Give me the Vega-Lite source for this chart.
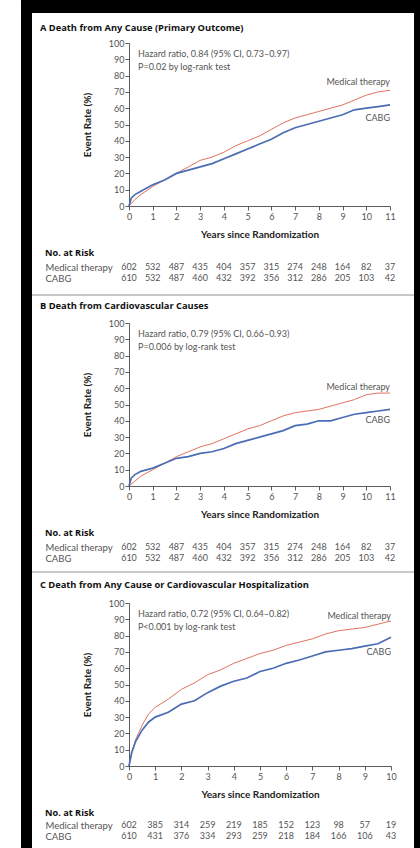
{
  "$schema": "https://vega.github.io/schema/vega-lite/v6.json",
  "background": "white",
  "padding": {"left": 20, "top": 0, "right": 0, "bottom": 0},
  "bounds": "flush",
  "spacing": 40,
  "config": {
    "font": "Lato",
    "view": {"stroke": null},
    "axis": {"domainColor": "#333", "tickColor": "#333", "labelColor": "#555", "labelFontSize": 9, "titleFontSize": 10, "titleFontWeight": "bold", "titleColor": "#222", "grid": false, "tickSize": 4, "labelPadding": 2, "domainWidth": 0.8, "tickWidth": 0.8, "labelFlush": false},
    "title": {"font": "Open Sans", "fontSize": 9.2, "fontWeight": "bold", "color": "#111", "anchor": "start", "frame": "group", "baseline": "middle"},
    "text": {"font": "Lato", "fontSize": 9, "color": "#555"}
  },
  "datasets": {
    "curves": [
      {"panel":"A","group":"Medical therapy","t":0,"rate":0},{"panel":"A","group":"Medical therapy","t":0.25,"rate":4},{"panel":"A","group":"Medical therapy","t":0.5,"rate":7},{"panel":"A","group":"Medical therapy","t":1,"rate":12},{"panel":"A","group":"Medical therapy","t":1.5,"rate":16},{"panel":"A","group":"Medical therapy","t":2,"rate":20},{"panel":"A","group":"Medical therapy","t":2.5,"rate":24},{"panel":"A","group":"Medical therapy","t":3,"rate":28},{"panel":"A","group":"Medical therapy","t":3.5,"rate":30},{"panel":"A","group":"Medical therapy","t":4,"rate":33},{"panel":"A","group":"Medical therapy","t":4.5,"rate":37},{"panel":"A","group":"Medical therapy","t":5,"rate":40},{"panel":"A","group":"Medical therapy","t":5.5,"rate":43},{"panel":"A","group":"Medical therapy","t":6,"rate":47},{"panel":"A","group":"Medical therapy","t":6.5,"rate":51},{"panel":"A","group":"Medical therapy","t":7,"rate":54},{"panel":"A","group":"Medical therapy","t":7.5,"rate":56},{"panel":"A","group":"Medical therapy","t":8,"rate":58},{"panel":"A","group":"Medical therapy","t":8.5,"rate":60},{"panel":"A","group":"Medical therapy","t":9,"rate":62},{"panel":"A","group":"Medical therapy","t":9.5,"rate":65},{"panel":"A","group":"Medical therapy","t":10,"rate":68},{"panel":"A","group":"Medical therapy","t":10.5,"rate":70},{"panel":"A","group":"Medical therapy","t":11,"rate":71},
      {"panel":"A","group":"CABG","t":0,"rate":0},{"panel":"A","group":"CABG","t":0.1,"rate":5},{"panel":"A","group":"CABG","t":0.25,"rate":7},{"panel":"A","group":"CABG","t":0.5,"rate":9},{"panel":"A","group":"CABG","t":1,"rate":13},{"panel":"A","group":"CABG","t":1.5,"rate":16},{"panel":"A","group":"CABG","t":2,"rate":20},{"panel":"A","group":"CABG","t":2.5,"rate":22},{"panel":"A","group":"CABG","t":3,"rate":24},{"panel":"A","group":"CABG","t":3.5,"rate":26},{"panel":"A","group":"CABG","t":4,"rate":29},{"panel":"A","group":"CABG","t":4.5,"rate":32},{"panel":"A","group":"CABG","t":5,"rate":35},{"panel":"A","group":"CABG","t":5.5,"rate":38},{"panel":"A","group":"CABG","t":6,"rate":41},{"panel":"A","group":"CABG","t":6.5,"rate":45},{"panel":"A","group":"CABG","t":7,"rate":48},{"panel":"A","group":"CABG","t":7.5,"rate":50},{"panel":"A","group":"CABG","t":8,"rate":52},{"panel":"A","group":"CABG","t":8.5,"rate":54},{"panel":"A","group":"CABG","t":9,"rate":56},{"panel":"A","group":"CABG","t":9.5,"rate":59},{"panel":"A","group":"CABG","t":10,"rate":60},{"panel":"A","group":"CABG","t":10.5,"rate":61},{"panel":"A","group":"CABG","t":11,"rate":62},
      {"panel":"B","group":"Medical therapy","t":0,"rate":0},{"panel":"B","group":"Medical therapy","t":0.25,"rate":3},{"panel":"B","group":"Medical therapy","t":0.5,"rate":6},{"panel":"B","group":"Medical therapy","t":1,"rate":10},{"panel":"B","group":"Medical therapy","t":1.5,"rate":14},{"panel":"B","group":"Medical therapy","t":2,"rate":18},{"panel":"B","group":"Medical therapy","t":2.5,"rate":21},{"panel":"B","group":"Medical therapy","t":3,"rate":24},{"panel":"B","group":"Medical therapy","t":3.5,"rate":26},{"panel":"B","group":"Medical therapy","t":4,"rate":29},{"panel":"B","group":"Medical therapy","t":4.5,"rate":32},{"panel":"B","group":"Medical therapy","t":5,"rate":35},{"panel":"B","group":"Medical therapy","t":5.5,"rate":37},{"panel":"B","group":"Medical therapy","t":6,"rate":40},{"panel":"B","group":"Medical therapy","t":6.5,"rate":43},{"panel":"B","group":"Medical therapy","t":7,"rate":45},{"panel":"B","group":"Medical therapy","t":7.5,"rate":46},{"panel":"B","group":"Medical therapy","t":8,"rate":47},{"panel":"B","group":"Medical therapy","t":8.5,"rate":49},{"panel":"B","group":"Medical therapy","t":9,"rate":51},{"panel":"B","group":"Medical therapy","t":9.5,"rate":53},{"panel":"B","group":"Medical therapy","t":10,"rate":56},{"panel":"B","group":"Medical therapy","t":10.5,"rate":57},{"panel":"B","group":"Medical therapy","t":11,"rate":57},
      {"panel":"B","group":"CABG","t":0,"rate":0},{"panel":"B","group":"CABG","t":0.1,"rate":5},{"panel":"B","group":"CABG","t":0.25,"rate":7},{"panel":"B","group":"CABG","t":0.5,"rate":9},{"panel":"B","group":"CABG","t":1,"rate":11},{"panel":"B","group":"CABG","t":1.5,"rate":14},{"panel":"B","group":"CABG","t":2,"rate":17},{"panel":"B","group":"CABG","t":2.5,"rate":18},{"panel":"B","group":"CABG","t":3,"rate":20},{"panel":"B","group":"CABG","t":3.5,"rate":21},{"panel":"B","group":"CABG","t":4,"rate":23},{"panel":"B","group":"CABG","t":4.5,"rate":26},{"panel":"B","group":"CABG","t":5,"rate":28},{"panel":"B","group":"CABG","t":5.5,"rate":30},{"panel":"B","group":"CABG","t":6,"rate":32},{"panel":"B","group":"CABG","t":6.5,"rate":34},{"panel":"B","group":"CABG","t":7,"rate":37},{"panel":"B","group":"CABG","t":7.5,"rate":38},{"panel":"B","group":"CABG","t":8,"rate":40},{"panel":"B","group":"CABG","t":8.5,"rate":40},{"panel":"B","group":"CABG","t":9,"rate":42},{"panel":"B","group":"CABG","t":9.5,"rate":44},{"panel":"B","group":"CABG","t":10,"rate":45},{"panel":"B","group":"CABG","t":10.5,"rate":46},{"panel":"B","group":"CABG","t":11,"rate":47},
      {"panel":"C","group":"Medical therapy","t":0,"rate":0},{"panel":"C","group":"Medical therapy","t":0.1,"rate":8},{"panel":"C","group":"Medical therapy","t":0.25,"rate":16},{"panel":"C","group":"Medical therapy","t":0.5,"rate":25},{"panel":"C","group":"Medical therapy","t":0.75,"rate":32},{"panel":"C","group":"Medical therapy","t":1,"rate":36},{"panel":"C","group":"Medical therapy","t":1.5,"rate":41},{"panel":"C","group":"Medical therapy","t":2,"rate":47},{"panel":"C","group":"Medical therapy","t":2.5,"rate":51},{"panel":"C","group":"Medical therapy","t":3,"rate":56},{"panel":"C","group":"Medical therapy","t":3.5,"rate":59},{"panel":"C","group":"Medical therapy","t":4,"rate":63},{"panel":"C","group":"Medical therapy","t":4.5,"rate":66},{"panel":"C","group":"Medical therapy","t":5,"rate":69},{"panel":"C","group":"Medical therapy","t":5.5,"rate":71},{"panel":"C","group":"Medical therapy","t":6,"rate":74},{"panel":"C","group":"Medical therapy","t":6.5,"rate":76},{"panel":"C","group":"Medical therapy","t":7,"rate":78},{"panel":"C","group":"Medical therapy","t":7.5,"rate":81},{"panel":"C","group":"Medical therapy","t":8,"rate":83},{"panel":"C","group":"Medical therapy","t":8.5,"rate":84},{"panel":"C","group":"Medical therapy","t":9,"rate":85},{"panel":"C","group":"Medical therapy","t":9.5,"rate":87},{"panel":"C","group":"Medical therapy","t":10,"rate":89},
      {"panel":"C","group":"CABG","t":0,"rate":0},{"panel":"C","group":"CABG","t":0.1,"rate":8},{"panel":"C","group":"CABG","t":0.25,"rate":15},{"panel":"C","group":"CABG","t":0.5,"rate":22},{"panel":"C","group":"CABG","t":0.75,"rate":27},{"panel":"C","group":"CABG","t":1,"rate":30},{"panel":"C","group":"CABG","t":1.5,"rate":33},{"panel":"C","group":"CABG","t":2,"rate":38},{"panel":"C","group":"CABG","t":2.5,"rate":40},{"panel":"C","group":"CABG","t":3,"rate":45},{"panel":"C","group":"CABG","t":3.5,"rate":49},{"panel":"C","group":"CABG","t":4,"rate":52},{"panel":"C","group":"CABG","t":4.5,"rate":54},{"panel":"C","group":"CABG","t":5,"rate":58},{"panel":"C","group":"CABG","t":5.5,"rate":60},{"panel":"C","group":"CABG","t":6,"rate":63},{"panel":"C","group":"CABG","t":6.5,"rate":65},{"panel":"C","group":"CABG","t":7,"rate":67.5},{"panel":"C","group":"CABG","t":7.5,"rate":70},{"panel":"C","group":"CABG","t":8,"rate":71},{"panel":"C","group":"CABG","t":8.5,"rate":72},{"panel":"C","group":"CABG","t":9,"rate":73.5},{"panel":"C","group":"CABG","t":9.5,"rate":75},{"panel":"C","group":"CABG","t":10,"rate":79}
    ],
    "labels": [
      {"panel":"A","kind":"stat","t":0.38,"rate":93.2,"text":"Hazard ratio, 0.84 (95% CI, 0.73–0.97)"},
      {"panel":"A","kind":"stat","t":0.38,"rate":85.5,"text":"P=0.02 by log-rank test"},
      {"panel":"A","kind":"curve","t":11,"rate":76,"text":"Medical therapy"},
      {"panel":"A","kind":"curve","t":11,"rate":54,"text":"CABG"},
      {"panel":"B","kind":"stat","t":0.38,"rate":93.2,"text":"Hazard ratio, 0.79 (95% CI, 0.66–0.93)"},
      {"panel":"B","kind":"stat","t":0.38,"rate":85.5,"text":"P=0.006 by log-rank test"},
      {"panel":"B","kind":"curve","t":11,"rate":61,"text":"Medical therapy"},
      {"panel":"B","kind":"curve","t":11,"rate":40.5,"text":"CABG"},
      {"panel":"C","kind":"stat","t":0.34,"rate":93.2,"text":"Hazard ratio, 0.72 (95% CI, 0.64–0.82)"},
      {"panel":"C","kind":"stat","t":0.34,"rate":85.5,"text":"P<0.001 by log-rank test"},
      {"panel":"C","kind":"curve","t":10,"rate":92,"text":"Medical therapy"},
      {"panel":"C","kind":"curve","t":10,"rate":70,"text":"CABG"}
    ],
    "risk": [
      {"panel":"A","group":"Medical therapy","year":0,"n":602},{"panel":"A","group":"Medical therapy","year":1,"n":532},{"panel":"A","group":"Medical therapy","year":2,"n":487},{"panel":"A","group":"Medical therapy","year":3,"n":435},{"panel":"A","group":"Medical therapy","year":4,"n":404},{"panel":"A","group":"Medical therapy","year":5,"n":357},{"panel":"A","group":"Medical therapy","year":6,"n":315},{"panel":"A","group":"Medical therapy","year":7,"n":274},{"panel":"A","group":"Medical therapy","year":8,"n":248},{"panel":"A","group":"Medical therapy","year":9,"n":164},{"panel":"A","group":"Medical therapy","year":10,"n":82},{"panel":"A","group":"Medical therapy","year":11,"n":37},
      {"panel":"A","group":"CABG","year":0,"n":610},{"panel":"A","group":"CABG","year":1,"n":532},{"panel":"A","group":"CABG","year":2,"n":487},{"panel":"A","group":"CABG","year":3,"n":460},{"panel":"A","group":"CABG","year":4,"n":432},{"panel":"A","group":"CABG","year":5,"n":392},{"panel":"A","group":"CABG","year":6,"n":356},{"panel":"A","group":"CABG","year":7,"n":312},{"panel":"A","group":"CABG","year":8,"n":286},{"panel":"A","group":"CABG","year":9,"n":205},{"panel":"A","group":"CABG","year":10,"n":103},{"panel":"A","group":"CABG","year":11,"n":42},
      {"panel":"B","group":"Medical therapy","year":0,"n":602},{"panel":"B","group":"Medical therapy","year":1,"n":532},{"panel":"B","group":"Medical therapy","year":2,"n":487},{"panel":"B","group":"Medical therapy","year":3,"n":435},{"panel":"B","group":"Medical therapy","year":4,"n":404},{"panel":"B","group":"Medical therapy","year":5,"n":357},{"panel":"B","group":"Medical therapy","year":6,"n":315},{"panel":"B","group":"Medical therapy","year":7,"n":274},{"panel":"B","group":"Medical therapy","year":8,"n":248},{"panel":"B","group":"Medical therapy","year":9,"n":164},{"panel":"B","group":"Medical therapy","year":10,"n":82},{"panel":"B","group":"Medical therapy","year":11,"n":37},
      {"panel":"B","group":"CABG","year":0,"n":610},{"panel":"B","group":"CABG","year":1,"n":532},{"panel":"B","group":"CABG","year":2,"n":487},{"panel":"B","group":"CABG","year":3,"n":460},{"panel":"B","group":"CABG","year":4,"n":432},{"panel":"B","group":"CABG","year":5,"n":392},{"panel":"B","group":"CABG","year":6,"n":356},{"panel":"B","group":"CABG","year":7,"n":312},{"panel":"B","group":"CABG","year":8,"n":286},{"panel":"B","group":"CABG","year":9,"n":205},{"panel":"B","group":"CABG","year":10,"n":103},{"panel":"B","group":"CABG","year":11,"n":42},
      {"panel":"C","group":"Medical therapy","year":0,"n":602},{"panel":"C","group":"Medical therapy","year":1,"n":385},{"panel":"C","group":"Medical therapy","year":2,"n":314},{"panel":"C","group":"Medical therapy","year":3,"n":259},{"panel":"C","group":"Medical therapy","year":4,"n":219},{"panel":"C","group":"Medical therapy","year":5,"n":185},{"panel":"C","group":"Medical therapy","year":6,"n":152},{"panel":"C","group":"Medical therapy","year":7,"n":123},{"panel":"C","group":"Medical therapy","year":8,"n":98},{"panel":"C","group":"Medical therapy","year":9,"n":57},{"panel":"C","group":"Medical therapy","year":10,"n":19},
      {"panel":"C","group":"CABG","year":0,"n":610},{"panel":"C","group":"CABG","year":1,"n":431},{"panel":"C","group":"CABG","year":2,"n":376},{"panel":"C","group":"CABG","year":3,"n":334},{"panel":"C","group":"CABG","year":4,"n":293},{"panel":"C","group":"CABG","year":5,"n":259},{"panel":"C","group":"CABG","year":6,"n":218},{"panel":"C","group":"CABG","year":7,"n":184},{"panel":"C","group":"CABG","year":8,"n":166},{"panel":"C","group":"CABG","year":9,"n":106},{"panel":"C","group":"CABG","year":10,"n":43}
    ]
  },
  "vconcat": [
    {
      "width": 261, "height": 163,
      "layer": [
        {"data": {"values": [{}]}, "mark": {"type": "rect", "color": "black"}, "encoding": {"x": {"datum": -4.552, "axis": {"title": "Years since Randomization", "values": [0,1,2,3,4,5,6,7,8,9,10,11], "tickCount": 12, "labelOverlap": false, "titlePadding": 8}}, "x2": {"datum": 12.306}, "y": {"datum": 126.38, "axis": {"title": "Event Rate (%)", "values": [0,10,20,30,40,50,60,70,80,90,100], "tickCount": 11, "labelOverlap": false, "labelPadding": 1, "titlePadding": 16}}, "y2": {"datum": 118.4}}},
        {"data": {"values": [{}]}, "mark": {"type": "rect", "color": "black"}, "encoding": {"x": {"datum": -4.552, "axis": {"title": "Years since Randomization", "values": [0,1,2,3,4,5,6,7,8,9,10,11], "tickCount": 12, "labelOverlap": false, "titlePadding": 8}}, "x2": {"datum": -4.088}, "y": {"datum": 126.38, "axis": {"title": "Event Rate (%)", "values": [0,10,20,30,40,50,60,70,80,90,100], "tickCount": 11, "labelOverlap": false, "labelPadding": 1, "titlePadding": 16}}, "y2": {"datum": -71.78}}},
        {"data": {"values": [{}]}, "mark": {"type": "rect", "color": "black"}, "encoding": {"x": {"datum": 12.012, "axis": {"title": "Years since Randomization", "values": [0,1,2,3,4,5,6,7,8,9,10,11], "tickCount": 12, "labelOverlap": false, "titlePadding": 8}}, "x2": {"datum": 12.306}, "y": {"datum": 126.38, "axis": {"title": "Event Rate (%)", "values": [0,10,20,30,40,50,60,70,80,90,100], "tickCount": 11, "labelOverlap": false, "labelPadding": 1, "titlePadding": 16}}, "y2": {"datum": -71.78}}},
        {"data": {"values": [{}]}, "mark": {"type": "text", "align": "left", "baseline": "middle", "font": "Open Sans", "fontSize": 9.3, "fontWeight": "bold", "color": "#111"}, "encoding": {"x": {"datum": -3.751, "axis": {"title": "Years since Randomization", "values": [0,1,2,3,4,5,6,7,8,9,10,11], "tickCount": 12, "labelOverlap": false, "titlePadding": 8}}, "y": {"datum": 109.5, "axis": {"title": "Event Rate (%)", "values": [0,10,20,30,40,50,60,70,80,90,100], "tickCount": 11, "labelOverlap": false, "labelPadding": 1, "titlePadding": 16}}, "text": {"value": "A  Death from Any Cause (Primary Outcome)"}}},
        {
          "data": {"name": "curves"},
          "transform": [{"filter": "datum.panel === 'A'"}],
          "mark": {"type": "line", "interpolate": "linear"},
          "encoding": {
            "x": {"field": "t", "type": "quantitative", "scale": {"domain": [0, 11], "nice": false}, "axis": {"title": "Years since Randomization", "values": [0,1,2,3,4,5,6,7,8,9,10,11], "tickCount": 12, "labelOverlap": false, "titlePadding": 8}},
            "y": {"field": "rate", "type": "quantitative", "scale": {"domain": [0, 100], "nice": false}, "axis": {"title": "Event Rate (%)", "values": [0,10,20,30,40,50,60,70,80,90,100], "tickCount": 11, "labelOverlap": false, "labelPadding": 1, "titlePadding": 16}},
            "color": {"field": "group", "type": "nominal", "scale": {"domain": ["Medical therapy", "CABG"], "range": ["#e0735f", "#4a6db5"]}, "legend": null},
            "strokeWidth": {"field": "group", "type": "nominal", "scale": {"domain": ["Medical therapy", "CABG"], "range": [1, 1.7]}, "legend": null}
          }
        },
        {
          "data": {"name": "labels"},
          "transform": [{"filter": "datum.panel === 'A' && datum.kind === 'stat'"}],
          "mark": {"type": "text", "align": "left"},
          "encoding": {"x": {"field": "t", "type": "quantitative", "axis": {"title": "Years since Randomization", "values": [0,1,2,3,4,5,6,7,8,9,10,11], "tickCount": 12, "labelOverlap": false, "titlePadding": 8}}, "y": {"field": "rate", "type": "quantitative", "axis": {"title": "Event Rate (%)", "values": [0,10,20,30,40,50,60,70,80,90,100], "tickCount": 11, "labelOverlap": false, "labelPadding": 1, "titlePadding": 16}}, "text": {"field": "text"}}
        },
        {
          "data": {"name": "labels"},
          "transform": [{"filter": "datum.panel === 'A' && datum.kind === 'curve'"}],
          "mark": {"type": "text", "align": "right"},
          "encoding": {"x": {"field": "t", "type": "quantitative", "axis": {"title": "Years since Randomization", "values": [0,1,2,3,4,5,6,7,8,9,10,11], "tickCount": 12, "labelOverlap": false, "titlePadding": 8}}, "y": {"field": "rate", "type": "quantitative", "axis": {"title": "Event Rate (%)", "values": [0,10,20,30,40,50,60,70,80,90,100], "tickCount": 11, "labelOverlap": false, "labelPadding": 1, "titlePadding": 16}}, "text": {"field": "text"}}
        }
      ]
    },
    {
      "width": 261, "height": 37,
      "title": {"text": "No. at Risk", "dx": -84, "offset": 0, "dy": 12},
      "data": {"name": "risk"},
      "transform": [{"filter": "datum.panel === 'A'"}],
      "mark": {"type": "text"},
      "encoding": {
        "x": {"field": "year", "type": "quantitative", "scale": {"domain": [0, 11], "nice": false}, "axis": null},
        "y": {"field": "group", "type": "nominal", "sort": ["Medical therapy", "CABG"], "scale": {"range": [21, 32], "padding": 0}, "axis": {"title": null, "domain": false, "ticks": false, "labelAlign": "left", "labelPadding": 84, "labelColor": "#555", "labelFontSize": 9.5}},
        "text": {"field": "n"}
      }
    },
    {
      "width": 261, "height": 163,
      "layer": [
        {"data": {"values": [{}]}, "mark": {"type": "rect", "color": "#c8c8c8"}, "encoding": {"x": {"datum": -4.088, "axis": {"title": "Years since Randomization", "values": [0,1,2,3,4,5,6,7,8,9,10,11], "tickCount": 12, "labelOverlap": false, "titlePadding": 8}}, "x2": {"datum": 12.012}, "y": {"datum": 117.8, "axis": {"title": "Event Rate (%)", "values": [0,10,20,30,40,50,60,70,80,90,100], "tickCount": 11, "labelOverlap": false, "labelPadding": 1, "titlePadding": 16}}, "y2": {"datum": 116.6}}},
        {"data": {"values": [{}]}, "mark": {"type": "rect", "color": "black"}, "encoding": {"x": {"datum": -4.552, "axis": {"title": "Years since Randomization", "values": [0,1,2,3,4,5,6,7,8,9,10,11], "tickCount": 12, "labelOverlap": false, "titlePadding": 8}}, "x2": {"datum": -4.088}, "y": {"datum": 100, "axis": {"title": "Event Rate (%)", "values": [0,10,20,30,40,50,60,70,80,90,100], "tickCount": 11, "labelOverlap": false, "labelPadding": 1, "titlePadding": 16}}, "y2": {"datum": -71.78}}},
        {"data": {"values": [{}]}, "mark": {"type": "rect", "color": "black"}, "encoding": {"x": {"datum": 12.012, "axis": {"title": "Years since Randomization", "values": [0,1,2,3,4,5,6,7,8,9,10,11], "tickCount": 12, "labelOverlap": false, "titlePadding": 8}}, "x2": {"datum": 12.306}, "y": {"datum": 100, "axis": {"title": "Event Rate (%)", "values": [0,10,20,30,40,50,60,70,80,90,100], "tickCount": 11, "labelOverlap": false, "labelPadding": 1, "titlePadding": 16}}, "y2": {"datum": -71.78}}},
        {"data": {"values": [{}]}, "mark": {"type": "text", "align": "left", "baseline": "middle", "font": "Open Sans", "fontSize": 9.3, "fontWeight": "bold", "color": "#111"}, "encoding": {"x": {"datum": -3.751, "axis": {"title": "Years since Randomization", "values": [0,1,2,3,4,5,6,7,8,9,10,11], "tickCount": 12, "labelOverlap": false, "titlePadding": 8}}, "y": {"datum": 110.4, "axis": {"title": "Event Rate (%)", "values": [0,10,20,30,40,50,60,70,80,90,100], "tickCount": 11, "labelOverlap": false, "labelPadding": 1, "titlePadding": 16}}, "text": {"value": "B  Death from Cardiovascular Causes"}}},
        {
          "data": {"name": "curves"},
          "transform": [{"filter": "datum.panel === 'B'"}],
          "mark": {"type": "line", "interpolate": "linear"},
          "encoding": {
            "x": {"field": "t", "type": "quantitative", "scale": {"domain": [0, 11], "nice": false}, "axis": {"title": "Years since Randomization", "values": [0,1,2,3,4,5,6,7,8,9,10,11], "tickCount": 12, "labelOverlap": false, "titlePadding": 8}},
            "y": {"field": "rate", "type": "quantitative", "scale": {"domain": [0, 100], "nice": false}, "axis": {"title": "Event Rate (%)", "values": [0,10,20,30,40,50,60,70,80,90,100], "tickCount": 11, "labelOverlap": false, "labelPadding": 1, "titlePadding": 16}},
            "color": {"field": "group", "type": "nominal", "scale": {"domain": ["Medical therapy", "CABG"], "range": ["#e0735f", "#4a6db5"]}, "legend": null},
            "strokeWidth": {"field": "group", "type": "nominal", "scale": {"domain": ["Medical therapy", "CABG"], "range": [1, 1.7]}, "legend": null}
          }
        },
        {
          "data": {"name": "labels"},
          "transform": [{"filter": "datum.panel === 'B' && datum.kind === 'stat'"}],
          "mark": {"type": "text", "align": "left"},
          "encoding": {"x": {"field": "t", "type": "quantitative", "axis": {"title": "Years since Randomization", "values": [0,1,2,3,4,5,6,7,8,9,10,11], "tickCount": 12, "labelOverlap": false, "titlePadding": 8}}, "y": {"field": "rate", "type": "quantitative", "axis": {"title": "Event Rate (%)", "values": [0,10,20,30,40,50,60,70,80,90,100], "tickCount": 11, "labelOverlap": false, "labelPadding": 1, "titlePadding": 16}}, "text": {"field": "text"}}
        },
        {
          "data": {"name": "labels"},
          "transform": [{"filter": "datum.panel === 'B' && datum.kind === 'curve'"}],
          "mark": {"type": "text", "align": "right"},
          "encoding": {"x": {"field": "t", "type": "quantitative", "axis": {"title": "Years since Randomization", "values": [0,1,2,3,4,5,6,7,8,9,10,11], "tickCount": 12, "labelOverlap": false, "titlePadding": 8}}, "y": {"field": "rate", "type": "quantitative", "axis": {"title": "Event Rate (%)", "values": [0,10,20,30,40,50,60,70,80,90,100], "tickCount": 11, "labelOverlap": false, "labelPadding": 1, "titlePadding": 16}}, "text": {"field": "text"}}
        }
      ]
    },
    {
      "width": 261, "height": 37,
      "title": {"text": "No. at Risk", "dx": -84, "offset": 0, "dy": 12},
      "data": {"name": "risk"},
      "transform": [{"filter": "datum.panel === 'B'"}],
      "mark": {"type": "text"},
      "encoding": {
        "x": {"field": "year", "type": "quantitative", "scale": {"domain": [0, 11], "nice": false}, "axis": null},
        "y": {"field": "group", "type": "nominal", "sort": ["Medical therapy", "CABG"], "scale": {"range": [21, 32], "padding": 0}, "axis": {"title": null, "domain": false, "ticks": false, "labelAlign": "left", "labelPadding": 84, "labelColor": "#555", "labelFontSize": 9.5}},
        "text": {"field": "n"}
      }
    },
    {
      "width": 262, "height": 163,
      "layer": [
        {"data": {"values": [{}]}, "mark": {"type": "rect", "color": "#c8c8c8"}, "encoding": {"x": {"datum": -3.702, "axis": {"title": "Years since Randomization", "values": [0,1,2,3,4,5,6,7,8,9,10], "tickCount": 11, "labelOverlap": false, "titlePadding": 8}}, "x2": {"datum": 10.878}, "y": {"datum": 119.6, "axis": {"title": "Event Rate (%)", "values": [0,10,20,30,40,50,60,70,80,90,100], "tickCount": 11, "labelOverlap": false, "labelPadding": 1, "titlePadding": 16}}, "y2": {"datum": 118.4}}},
        {"data": {"values": [{}]}, "mark": {"type": "rect", "color": "black"}, "encoding": {"x": {"datum": -4.122, "axis": {"title": "Years since Randomization", "values": [0,1,2,3,4,5,6,7,8,9,10], "tickCount": 11, "labelOverlap": false, "titlePadding": 8}}, "x2": {"datum": -3.702}, "y": {"datum": 100, "axis": {"title": "Event Rate (%)", "values": [0,10,20,30,40,50,60,70,80,90,100], "tickCount": 11, "labelOverlap": false, "labelPadding": 1, "titlePadding": 16}}, "y2": {"datum": -50.31}}},
        {"data": {"values": [{}]}, "mark": {"type": "rect", "color": "black"}, "encoding": {"x": {"datum": 10.878, "axis": {"title": "Years since Randomization", "values": [0,1,2,3,4,5,6,7,8,9,10], "tickCount": 11, "labelOverlap": false, "titlePadding": 8}}, "x2": {"datum": 11.145}, "y": {"datum": 100, "axis": {"title": "Event Rate (%)", "values": [0,10,20,30,40,50,60,70,80,90,100], "tickCount": 11, "labelOverlap": false, "labelPadding": 1, "titlePadding": 16}}, "y2": {"datum": -50.31}}},
        {"data": {"values": [{}]}, "mark": {"type": "text", "align": "left", "baseline": "middle", "font": "Open Sans", "fontSize": 9.3, "fontWeight": "bold", "color": "#111"}, "encoding": {"x": {"datum": -3.397, "axis": {"title": "Years since Randomization", "values": [0,1,2,3,4,5,6,7,8,9,10], "tickCount": 11, "labelOverlap": false, "titlePadding": 8}}, "y": {"datum": 111, "axis": {"title": "Event Rate (%)", "values": [0,10,20,30,40,50,60,70,80,90,100], "tickCount": 11, "labelOverlap": false, "labelPadding": 1, "titlePadding": 16}}, "text": {"value": "C  Death from Any Cause or Cardiovascular Hospitalization"}}},
        {
          "data": {"name": "curves"},
          "transform": [{"filter": "datum.panel === 'C'"}],
          "mark": {"type": "line", "interpolate": "linear"},
          "encoding": {
            "x": {"field": "t", "type": "quantitative", "scale": {"domain": [0, 10], "nice": false}, "axis": {"title": "Years since Randomization", "values": [0,1,2,3,4,5,6,7,8,9,10], "tickCount": 11, "labelOverlap": false, "titlePadding": 8}},
            "y": {"field": "rate", "type": "quantitative", "scale": {"domain": [0, 100], "nice": false}, "axis": {"title": "Event Rate (%)", "values": [0,10,20,30,40,50,60,70,80,90,100], "tickCount": 11, "labelOverlap": false, "labelPadding": 1, "titlePadding": 16}},
            "color": {"field": "group", "type": "nominal", "scale": {"domain": ["Medical therapy", "CABG"], "range": ["#e0735f", "#4a6db5"]}, "legend": null},
            "strokeWidth": {"field": "group", "type": "nominal", "scale": {"domain": ["Medical therapy", "CABG"], "range": [1, 1.7]}, "legend": null}
          }
        },
        {
          "data": {"name": "labels"},
          "transform": [{"filter": "datum.panel === 'C' && datum.kind === 'stat'"}],
          "mark": {"type": "text", "align": "left"},
          "encoding": {"x": {"field": "t", "type": "quantitative", "axis": {"title": "Years since Randomization", "values": [0,1,2,3,4,5,6,7,8,9,10], "tickCount": 11, "labelOverlap": false, "titlePadding": 8}}, "y": {"field": "rate", "type": "quantitative", "axis": {"title": "Event Rate (%)", "values": [0,10,20,30,40,50,60,70,80,90,100], "tickCount": 11, "labelOverlap": false, "labelPadding": 1, "titlePadding": 16}}, "text": {"field": "text"}}
        },
        {
          "data": {"name": "labels"},
          "transform": [{"filter": "datum.panel === 'C' && datum.kind === 'curve'"}],
          "mark": {"type": "text", "align": "right"},
          "encoding": {"x": {"field": "t", "type": "quantitative", "axis": {"title": "Years since Randomization", "values": [0,1,2,3,4,5,6,7,8,9,10], "tickCount": 11, "labelOverlap": false, "titlePadding": 8}}, "y": {"field": "rate", "type": "quantitative", "axis": {"title": "Event Rate (%)", "values": [0,10,20,30,40,50,60,70,80,90,100], "tickCount": 11, "labelOverlap": false, "labelPadding": 1, "titlePadding": 16}}, "text": {"field": "text"}}
        }
      ]
    },
    {
      "width": 262, "height": 37,
      "title": {"text": "No. at Risk", "dx": -84, "offset": 0, "dy": 12},
      "data": {"name": "risk"},
      "transform": [{"filter": "datum.panel === 'C'"}],
      "mark": {"type": "text"},
      "encoding": {
        "x": {"field": "year", "type": "quantitative", "scale": {"domain": [0, 10], "nice": false}, "axis": null},
        "y": {"field": "group", "type": "nominal", "sort": ["Medical therapy", "CABG"], "scale": {"range": [19, 30], "padding": 0}, "axis": {"title": null, "domain": false, "ticks": false, "labelAlign": "left", "labelPadding": 84, "labelColor": "#555", "labelFontSize": 9.5}},
        "text": {"field": "n"}
      }
    }
  ]
}
